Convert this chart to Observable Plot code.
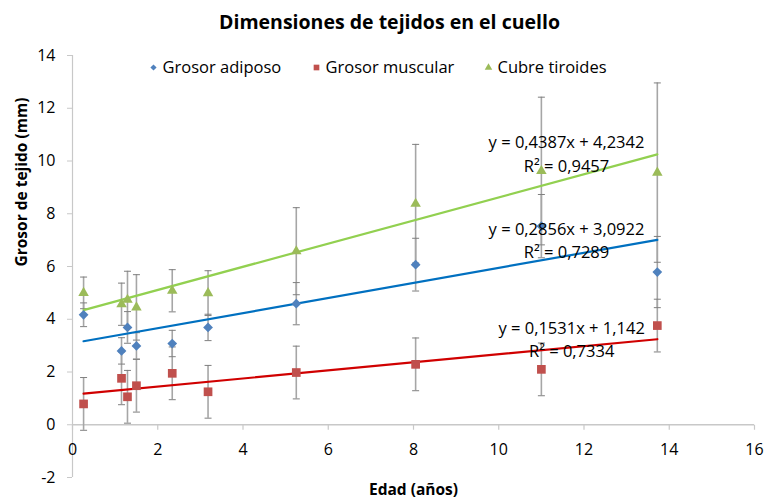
<!DOCTYPE html>
<html><head><meta charset="utf-8">
<script src="https://cdn.jsdelivr.net/npm/d3@7"></script>
<script src="https://cdn.jsdelivr.net/npm/@observablehq/plot@0.6"></script>
<style>body{margin:0;background:#fff} #chart{width:767px;height:500px}</style>
</head><body><div id="chart"></div>
<script>
// ---- data ----
const ages = [0.26, 1.15, 1.29, 1.5, 2.34, 3.18, 5.25, 8.05, 11.0, 13.72];
const seriesNames = ["Grosor adiposo", "Grosor muscular", "Cubre tiroides"];
const adiposo    = [4.17, 2.8, 3.69, 2.99, 3.08, 3.69, 4.59, 6.07, 7.53, 5.79];
const adiposoErr = [0.45, 0.5, 0.6, 0.5, 0.5, 0.5, 0.8, 1.0, 1.2, 1.35];
const muscular    = [0.79, 1.76, 1.06, 1.48, 1.95, 1.25, 1.98, 2.29, 2.1, 3.76];
const muscularErr = [1.0, 1.0, 1.0, 1.0, 1.0, 1.0, 1.0, 1.0, 1.0, 1.0];
const tiroides    = [5.0, 4.57, 4.74, 4.45, 5.08, 4.99, 6.58, 8.38, 9.62, 9.56];
const tiroidesErr = [0.6, 0.8, 1.08, 1.24, 0.8, 0.85, 1.65, 2.25, 2.8, 3.4];
const slopes = [0.2856, 0.1531, 0.4387];
const intercepts = [3.0922, 1.142, 4.2342];
const eqLabels = ["y = 0,2856x + 3,0922", "y = 0,1531x + 1,142", "y = 0,4387x + 4,2342"];
const r2Labels = ["R² = 0,7289", "R² = 0,7334", "R² = 0,9457"];
const labelAt = [[11.59, 7.41], [11.71, 3.65], [11.59, 10.68]];
const xTicks = [0, 2, 4, 6, 8, 10, 12, 14, 16];
const yTicks = [-2, 0, 2, 4, 6, 8, 10, 12, 14];
const markerColors = ["#4f81bd", "#c0504d", "#9bbb59"];
const trendColors = ["#0070c0", "#d00000", "#92d050"];
const symbols = ["diamond2", "square", "triangle"];

// ---- tables ----
const values = [adiposo, muscular, tiroides];
const errs = [adiposoErr, muscularErr, tiroidesErr];
const rows = [];
values.forEach((vals, s) => vals.forEach((v, i) => rows.push({s, x: ages[i], y: v, e: errs[s][i]})));
const caps = rows.flatMap(d => [{x: d.x, y: d.y - d.e}, {x: d.x, y: d.y + d.e}]);
const xmin = d3.min(ages), xmax = d3.max(ages);
const trends = slopes.flatMap((a, s) => [xmin, xmax].map(x => ({s, x, y: a * x + intercepts[s]})));
const labels = eqLabels.map((t, s) => ({s, x: labelAt[s][0], y: labelAt[s][1], eq: t, r2: r2Labels[s]}));

const capSym = {draw(ctx) { ctx.moveTo(-3.5, 0); ctx.lineTo(3.5, 0); }};
const tickDown = {draw(ctx) { ctx.moveTo(0, 0); ctx.lineTo(0, 5); }};
const axisGray = "#c8c8c8";
const font = "Open Sans";

const marks = [
  Plot.ruleX([0], {stroke: axisGray, strokeWidth: 1.2}),
  Plot.ruleY([0], {stroke: axisGray, strokeWidth: 1.5}),
  Plot.axisY({ticks: yTicks, tickSize: 5, tickPadding: 12, tickFormat: d => String(d), label: null, stroke: axisGray, fill: "#000", fontSize: 16}),
  Plot.dot(xTicks, {x: d => d, y: () => 0, symbol: tickDown, fill: "none", stroke: axisGray, strokeWidth: 1.2}),
  Plot.text(xTicks, {x: d => d, y: () => 0, dy: 25, text: d => String(d), fill: "#000", fontSize: 16}),
  Plot.ruleX(rows, {x: "x", y1: d => d.y - d.e, y2: d => d.y + d.e, stroke: "#a6a6a6", strokeWidth: 1.6}),
  Plot.dot(caps, {x: "x", y: "y", symbol: capSym, fill: "none", stroke: "#7f7f7f", strokeWidth: 1}),
];
[0, 1, 2].forEach(s => {
  marks.push(Plot.line(trends.filter(d => d.s === s), {x: "x", y: "y", stroke: trendColors[s], strokeWidth: 2.2}));
});
const rs = [4.4, 4.9, 3.9];
[0, 1, 2].forEach(s => {
  marks.push(Plot.dot(rows.filter(d => d.s === s), {x: "x", y: "y", symbol: symbols[s], r: rs[s], fill: markerColors[s], stroke: "none"}));
});
marks.push(
  Plot.text(labels, {x: "x", y: "y", text: "eq", fill: "#000", fontSize: 16.5}),
  Plot.text(labels, {x: "x", y: "y", dy: 23.5, text: "r2", fill: "#000", fontSize: 16.5}),
  // titles
  Plot.text(["Dimensiones de tejidos en el cuello"], {frameAnchor: "top", lineAnchor: "middle", dx: -24, dy: -33, fontWeight: "bold", fontSize: 19.5, fill: "#000"}),
  Plot.text(["Grosor de tejido (mm)"], {frameAnchor: "left", lineAnchor: "middle", dx: -50, rotate: -90, fontWeight: "bold", fontSize: 15.5, fill: "#000"}),
  Plot.text(["Edad (años)"], {frameAnchor: "bottom", lineAnchor: "middle", dy: 13, fontWeight: "bold", fontSize: 15.5, fill: "#000"})
);
// legend
const legDx = [81, 244, 416];
const legR = [2.8, 3.2, 2.8];
seriesNames.forEach((n, s) => {
  marks.push(Plot.dot([n], {frameAnchor: "top-left", dx: legDx[s], dy: 12, symbol: symbols[s], r: legR[s], fill: markerColors[s], stroke: "none"}));
  marks.push(Plot.text([n], {frameAnchor: "top-left", lineAnchor: "middle", dx: legDx[s] + 9, dy: 12, text: d => d, textAnchor: "start", fontSize: 16.5, fill: "#000"}));
});

const chart = Plot.plot({
  width: 767, height: 500,
  marginLeft: 72, marginRight: 13, marginTop: 55, marginBottom: 23,
  x: {domain: [0, 16], axis: null},
  y: {domain: [-2, 14]},
  style: {fontFamily: font, fontSize: "15px", color: "#000", background: "#fff", overflow: "visible"},
  marks
});
document.getElementById("chart").appendChild(chart);
</script></body></html>
